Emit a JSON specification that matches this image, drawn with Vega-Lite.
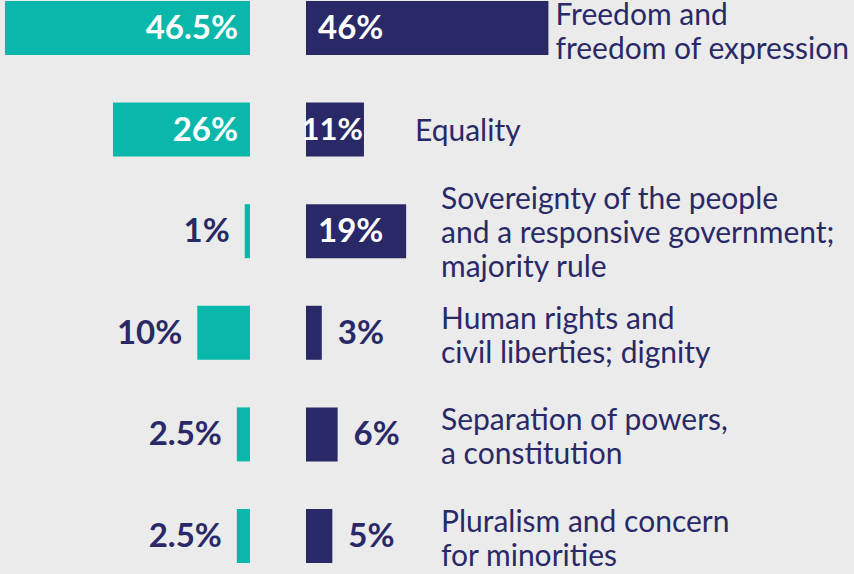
{
  "$schema": "https://vega.github.io/schema/vega-lite/v6.json",
  "width": 854,
  "height": 574,
  "padding": 0,
  "autosize": {"type": "none"},
  "background": "#ebebeb",
  "config": {"view": {"stroke": null}, "text": {"font": "Lato"}},
  "data": {
    "values": [
      {"cat": "Freedom and\nfreedom of expression", "teal": 0.465, "navy": 0.46},
      {"cat": "Equality", "teal": 0.26, "navy": 0.11},
      {"cat": "Sovereignty of the people\nand a responsive government;\nmajority rule", "teal": 0.01, "navy": 0.19},
      {"cat": "Human rights and\ncivil liberties; dignity", "teal": 0.10, "navy": 0.03},
      {"cat": "Separation of powers,\na constitution", "teal": 0.025, "navy": 0.06},
      {"cat": "Pluralism and concern\nfor minorities", "teal": 0.025, "navy": 0.05}
    ]
  },
  "layer": [
    {
      "encoding": {
        "y": {"field": "cat", "type": "nominal", "sort": null, "axis": null,
              "scale": {"paddingInner": 0.4685, "paddingOuter": 0.0591, "align": 0.083}}
      },
      "layer": [
        {
          "mark": {"type": "bar", "color": "#09b8aa"},
          "encoding": {
            "x": {"field": "teal", "type": "quantitative", "axis": null,
                  "scale": {"domain": [-1.14611, 0.47438], "reverse": true, "zero": false, "nice": false}},
            "x2": {"datum": 0}
          }
        },
        {
          "transform": [{"filter": "datum.teal >= 0.2"}],
          "mark": {"type": "text", "align": "right", "baseline": "middle", "dx": -12, "dy": 1, "fontSize": 33, "fontWeight": "bold", "color": "white"},
          "encoding": {
            "x": {"datum": 0, "type": "quantitative"},
            "text": {"field": "teal", "type": "quantitative", "format": ".1~%"}
          }
        },
        {
          "transform": [{"filter": "datum.teal < 0.2"}],
          "mark": {"type": "text", "align": "right", "baseline": "middle", "dx": -15, "dy": 1, "fontSize": 33, "fontWeight": "bold", "color": "#2a2967"},
          "encoding": {
            "x": {"field": "teal", "type": "quantitative"},
            "text": {"field": "teal", "type": "quantitative", "format": ".1~%"}
          }
        }
      ]
    },
    {
      "encoding": {
        "y": {"field": "cat", "type": "nominal", "sort": null, "axis": null,
              "scale": {"paddingInner": 0.4685, "paddingOuter": 0.0591, "align": 0.083}}
      },
      "layer": [
        {
          "mark": {"type": "bar", "color": "#2a2967"},
          "encoding": {
            "x": {"field": "navy", "type": "quantitative", "axis": null,
                  "scale": {"domain": [-0.58065, 1.03985], "zero": false, "nice": false}},
            "x2": {"datum": 0}
          }
        },
        {
          "transform": [{"filter": "datum.navy >= 0.15"}],
          "mark": {"type": "text", "align": "left", "baseline": "middle", "dx": 12, "dy": 1, "fontSize": 33, "fontWeight": "bold", "color": "white"},
          "encoding": {
            "x": {"datum": 0, "type": "quantitative"},
            "text": {"field": "navy", "type": "quantitative", "format": ".1~%"}
          }
        },
        {
          "transform": [{"filter": "datum.navy >= 0.1 && datum.navy < 0.15"}],
          "mark": {"type": "text", "align": "right", "baseline": "middle", "dx": -1, "dy": 1, "fontSize": 31, "fontWeight": "bold", "color": "white"},
          "encoding": {
            "x": {"field": "navy", "type": "quantitative"},
            "text": {"field": "navy", "type": "quantitative", "format": ".1~%"}
          }
        },
        {
          "transform": [{"filter": "datum.navy < 0.1"}],
          "mark": {"type": "text", "align": "left", "baseline": "middle", "dx": 16, "dy": 1, "fontSize": 33, "fontWeight": "bold", "color": "#2a2967"},
          "encoding": {
            "x": {"field": "navy", "type": "quantitative"},
            "text": {"field": "navy", "type": "quantitative", "format": ".1~%"}
          }
        },
        {
          "transform": [{"filter": "length(split(datum.cat, '\\n')) == 1"}],
          "mark": {"type": "text", "align": "left", "baseline": "middle", "dx": 51, "dy": 2, "fontSize": 30, "color": "#2a2967"},
          "encoding": {
            "x": {"field": "navy", "type": "quantitative"},
            "text": {"field": "cat", "type": "nominal"}
          }
        },
        {
          "transform": [{"filter": "length(split(datum.cat, '\\n')) == 2 && datum.navy >= 0.3"}],
          "mark": {"type": "text", "align": "left", "baseline": "middle", "dx": 7, "dy": -12, "fontSize": 30, "lineHeight": 34, "lineBreak": "\n", "color": "#2a2967"},
          "encoding": {
            "x": {"field": "navy", "type": "quantitative"},
            "text": {"field": "cat", "type": "nominal"}
          }
        },
        {
          "transform": [{"filter": "length(split(datum.cat, '\\n')) == 2 && datum.navy < 0.3"}],
          "mark": {"type": "text", "align": "left", "baseline": "middle", "dy": -13, "fontSize": 30, "lineHeight": 34, "lineBreak": "\n", "color": "#2a2967"},
          "encoding": {
            "x": {"datum": 0.25617, "type": "quantitative"},
            "text": {"field": "cat", "type": "nominal"}
          }
        },
        {
          "transform": [{"filter": "length(split(datum.cat, '\\n')) == 3"}],
          "mark": {"type": "text", "align": "left", "baseline": "middle", "dy": -31, "fontSize": 30, "lineHeight": 34, "lineBreak": "\n", "color": "#2a2967"},
          "encoding": {
            "x": {"datum": 0.25617, "type": "quantitative"},
            "text": {"field": "cat", "type": "nominal"}
          }
        }
      ]
    }
  ],
  "resolve": {"scale": {"x": "independent"}}
}
